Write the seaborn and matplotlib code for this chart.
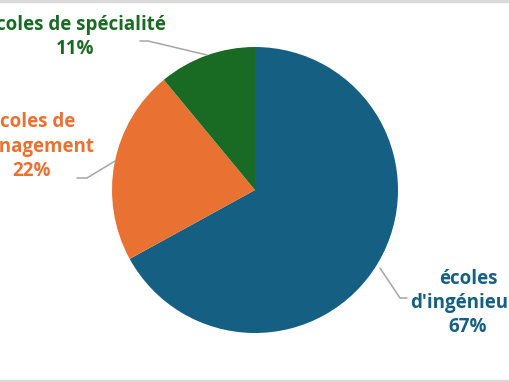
import matplotlib
matplotlib.use("Agg")
import matplotlib.pyplot as plt
import seaborn as sns

categories = ["écoles\nd'ingénieurs", "écoles de\nmanagement", "écoles de spécialité"]
values = [67, 22, 11]
pct_labels = ["67%", "22%", "11%"]
colors = ["#156082", "#E97132", "#196B24"]

sns.set_theme(style="white")
plt.rcParams['font.family'] = ['Open Sans', 'DejaVu Sans']

W, H = 510, 382
fig = plt.figure(figsize=(W / 100, H / 100), dpi=100)
ax = fig.add_axes([0, 0, 1, 1])

def Y(y):
    return H - y

cx, cy, r = 255, 190, 143
ax.pie(values, colors=sns.color_palette(colors), startangle=90, counterclock=False,
       center=(cx, Y(cy)), radius=r, frame=True,
       wedgeprops=dict(linewidth=0))
ax.set_xlim(0, W)
ax.set_ylim(0, H)
ax.axis("off")

# labels (positions in pixel coordinates, y down)
label_pos = [(468, 303), (32, 147), (75, 37)]
leaders = [
    [(380, 268), (400, 298), (407, 298)],
    [(115, 161), (87, 178), (77, 178)],
    [(207, 55), (148, 41), (140, 41)],
]
for cat, pct, col, (lx, ly), pts in zip(categories, pct_labels, colors, label_pos, leaders):
    ax.text(lx, Y(ly), f"{cat}\n{pct}", color=col, fontsize=13.5, fontweight="bold",
            ha="center", va="center", linespacing=1.3)
    ax.plot([p[0] for p in pts], [Y(p[1]) for p in pts], color="#a6a6a6", lw=1.1,
            solid_joinstyle="miter")

# top & bottom border lines
ax.axhline(Y(1), color="#d9d9d9", lw=2.5)
ax.axhline(Y(381), color="#d9d9d9", lw=2.5)

fig.savefig("out.png", dpi=100)
